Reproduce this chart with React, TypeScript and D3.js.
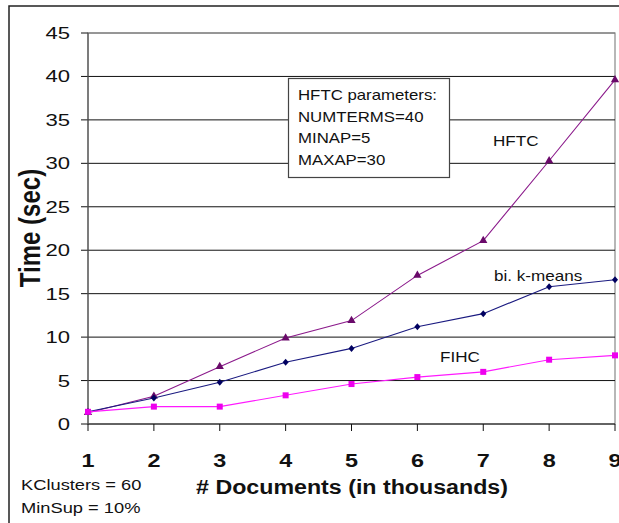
import React from "react";
import * as d3 from "d3";

const docs = [1, 2, 3, 4, 5, 6, 7, 8, 9];
const hftc = [1.3, 3.2, 6.6, 9.9, 11.9, 17.1, 21.1, 30.3, 39.6];
const bikmeans = [1.4, 3.0, 4.8, 7.1, 8.7, 11.2, 12.7, 15.8, 16.6];
const fihc = [1.4, 2.0, 2.0, 3.3, 4.6, 5.4, 6.0, 7.4, 7.9];
const yTicks = [0, 5, 10, 15, 20, 25, 30, 35, 40, 45];
const paramLines = ["HFTC parameters:", "NUMTERMS=40", "MINAP=5", "MAXAP=30"];
const noteLines = ["KClusters = 60", "MinSup = 10%"];

const FONT = "'Liberation Sans', Arial, sans-serif";

function SText(props: {
  x: number; y: number; sx?: number; size: number; bold?: boolean;
  anchor?: string; children: React.ReactNode; rotate?: number; fill?: string;
}) {
  const { x, y, sx = 1.22, size, bold, anchor = "start", children, rotate = 0, fill = "#111" } = props;
  return (
    <text
      transform={`translate(${x},${y}) scale(${sx},1)${rotate ? ` rotate(${rotate})` : ""}`}
      fontFamily={FONT}
      fontSize={size}
      fontWeight={bold ? "bold" : "normal"}
      textAnchor={anchor}
      fill={fill}
    >
      {children}
    </text>
  );
}

export default function App() {
  const x = d3.scaleLinear().domain([1, 9]).range([88, 615]);
  const y = d3.scaleLinear().domain([0, 45]).range([424, 33]);
  const line = d3
    .line<number>()
    .x((_, i) => x(docs[i]))
    .y((d) => y(d));

  const series = [
    { name: "HFTC", values: hftc, color: "#8b1a8b", marker: "#6a0a6a", shape: "tri" },
    { name: "bi. k-means", values: bikmeans, color: "#1a1a80", marker: "#000060", shape: "dia" },
    { name: "FIHC", values: fihc, color: "#ff1aff", marker: "#ee00ee", shape: "sq" },
  ];

  const marker = (shape: string, cx: number, cy: number, c: string, k: string) => {
    if (shape === "tri") {
      const p = d3.symbol(d3.symbolTriangle, 30)();
      return <path key={k} d={p || ""} transform={`translate(${cx},${cy})`} fill={c} />;
    }
    if (shape === "dia") {
      return <path key={k} d={`M0,-3.5L3,0L0,3.5L-3,0Z`} transform={`translate(${cx},${cy})`} fill={c} />;
    }
    return <rect key={k} x={cx - 3} y={cy - 3} width={6} height={6} fill={c} />;
  };

  return (
    <svg
      width={619}
      height={523}
      style={{ position: "absolute", left: 0, top: 0, background: "#fff" }}
    >
      <rect x={0} y={0} width={619} height={523} fill="#fff" />
      {/* outer frame */}
      <rect x={9} y={6} width={700} height={600} fill="none" stroke="#222" strokeWidth={1.5} />
      {/* plot area border */}
      <rect x={88} y={33} width={527} height={391} fill="none" stroke="#888" strokeWidth={1.2} />
      {/* gridlines and y ticks */}
      {yTicks.map((t) => (
        <g key={t}>
          <line x1={81} x2={t === 45 ? 88 : 615} y1={y(t)} y2={y(t)} stroke="#111" strokeWidth={1} />
          <SText x={70} y={y(t) + 6} size={17} sx={1.3} anchor="end">
            {t}
          </SText>
        </g>
      ))}
      <line x1={88} x2={615} y1={y(45)} y2={y(45)} stroke="#777" strokeWidth={1} />
      {/* y axis */}
      <line x1={88} x2={88} y1={33} y2={424} stroke="#555" strokeWidth={1.2} />
      {/* x ticks */}
      {docs.map((d) => (
        <g key={d}>
          <line x1={x(d)} x2={x(d)} y1={424} y2={431} stroke="#111" strokeWidth={1} />
          <SText x={x(d)} y={467} size={18} sx={1.3} bold anchor="middle">
            {d}
          </SText>
        </g>
      ))}
      {/* series */}
      {series.map((s) => (
        <g key={s.name}>
          <path d={line(s.values) || ""} fill="none" stroke={s.color} strokeWidth={1.1} />
          {s.values.map((v, i) => marker(s.shape, x(docs[i]), y(v), s.marker, s.name + i))}
        </g>
      ))}
      {/* series labels */}
      <SText x={493} y={146} size={14}>HFTC</SText>
      <SText x={494} y={281} size={14}>bi. k-means</SText>
      <SText x={440} y={362} size={14}>FIHC</SText>
      {/* params box */}
      <rect x={288.5} y={78.5} width={161} height={99} fill="#fff" stroke="#444" strokeWidth={1.2} />
      {paramLines.map((l, i) => (
        <SText key={l} x={298} y={100 + i * 21.7} size={14} sx={1.2}>
          {l}
        </SText>
      ))}
      {/* axis titles */}
      <SText x={352} y={494} size={19.5} sx={1.19} bold anchor="middle">
        # Documents (in thousands)
      </SText>
      <SText x={40} y={228} size={24} sx={1.22} bold anchor="middle" rotate={-90}>
        Time (sec)
      </SText>
      {/* notes */}
      {noteLines.map((l, i) => (
        <SText key={l} x={21} y={490 + i * 23} size={15} sx={1.22}>
          {l}
        </SText>
      ))}
    </svg>
  );
}
